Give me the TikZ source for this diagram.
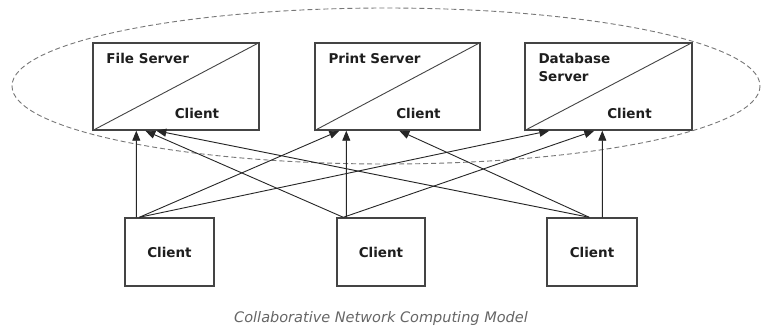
\documentclass[tikz,border=0pt]{standalone}
\usepackage{fontspec}
\setmainfont{DejaVu Sans}
\usetikzlibrary{arrows.meta,calc}
\definecolor{boxline}{HTML}{444444}
\definecolor{txt}{HTML}{1E1E1E}
\definecolor{capgray}{HTML}{666666}
\definecolor{ellgray}{HTML}{777777}
\tikzset{
  srvbox/.style={draw=boxline, line width=1.4bp, minimum height=87bp, inner sep=0pt},
  clibox/.style={draw=boxline, line width=1.4bp, minimum height=68bp, inner sep=0pt,
    font=\fontsize{13.5bp}{16bp}\selectfont\bfseries, text=txt},
  lbl/.style={font=\fontsize{13.5bp}{18bp}\selectfont\bfseries, text=txt, inner sep=0pt},
  conn/.style={draw=black!85, line width=0.9bp, -{Triangle[length=10bp,width=8bp]}},
  diag/.style={draw=boxline, line width=0.9bp}
}
\begin{document}
\begin{tikzpicture}[x=1bp,y=-1bp]
\useasboundingbox (0,0) rectangle (761,329);
\fill[white] (0,0) rectangle (761,329);
% servers
\node[srvbox, minimum width=166bp] (fs) at (176,86.5) {};
\node[srvbox, minimum width=165bp] (ps) at (397.5,86.5) {};
\node[srvbox, minimum width=167bp] (db) at (608.5,86.5) {};
\draw[diag] (fs.south west) -- (fs.north east);
\draw[diag] (ps.south west) -- (ps.north east);
\draw[diag] (db.south west) -- (db.north east);
\node[lbl, anchor=north west] (fsl) at ($(fs.north west)+(14,11)$) {File Server};
\node[lbl, anchor=north west] (psl) at ($(ps.north west)+(14,11)$) {Print Server};
\node[lbl, anchor=north west, align=left] (dbl) at ($(db.north west)+(14,11)$) {Database\\Server};
\node[lbl] (fsc) at ($(fs.center)+(21,26.5)$) {Client};
\node[lbl] (psc) at ($(ps.center)+(21,26.5)$) {Client};
\node[lbl] (dbc) at ($(db.center)+(21,26.5)$) {Client};
% clients
\node[clibox, minimum width=89bp] (c1) at (169.5,252) {Client};
\node[clibox, minimum width=88bp] (c2) at (381,252) {Client};
\node[clibox, minimum width=90bp] (c3) at (592,252) {Client};
% ellipse
\draw[ellgray, line width=0.9bp, dash pattern=on 5bp off 3bp] (386,86) ellipse [x radius=374, y radius=78];
% connectors from left client
\draw[conn] ([xshift=12bp]c1.north west) -- ([xshift=44bp]fs.south west);
\draw[conn] ([xshift=15bp]c1.north west) -- ([xshift=25bp]ps.south west);
\draw[conn] ([xshift=15bp]c1.north west) -- ([xshift=25bp]db.south west);
% middle client
\draw[conn] ([xshift=10bp]c2.north west) -- ([xshift=32bp]ps.south west);
\draw[conn] ([xshift=7bp]c2.north west) -- ([xshift=53bp]fs.south west);
\draw[conn] ([xshift=7bp]c2.north west) -- ([xshift=70bp]db.south west);
% right client
\draw[conn] ([xshift=56bp]c3.north west) -- ([xshift=78bp]db.south west);
\draw[conn] ([xshift=43bp]c3.north west) -- ([xshift=85bp]ps.south west);
\draw[conn] ([xshift=43bp]c3.north west) -- ([xshift=64bp]fs.south west);
% caption
\node[font=\fontsize{14.5bp}{16bp}\selectfont\itshape, text=capgray, inner sep=0pt] (cap) at (381,318) {Collaborative Network Computing Model};
\end{tikzpicture}
\end{document}
